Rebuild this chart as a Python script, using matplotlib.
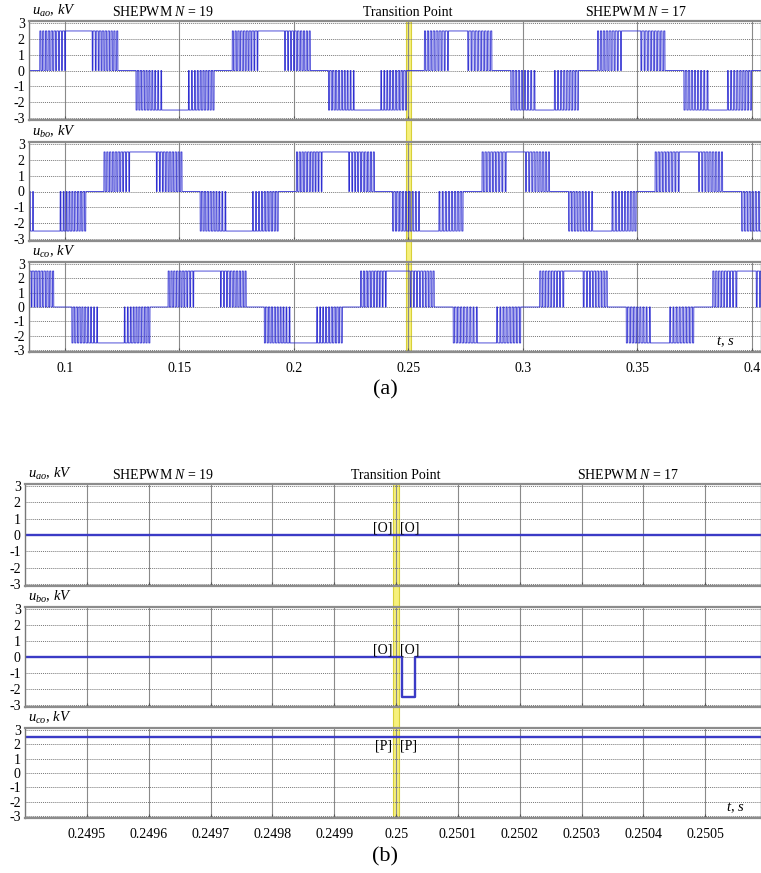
import numpy as np
import matplotlib
matplotlib.use("Agg")
import matplotlib.pyplot as plt
from matplotlib.patches import Rectangle
from matplotlib.transforms import blended_transform_factory

plt.rcParams['font.family'] = ['Liberation Serif', 'DejaVu Serif']
plt.rcParams['mathtext.fontset'] = 'custom'
plt.rcParams['mathtext.rm'] = 'Liberation Serif'
plt.rcParams['mathtext.it'] = 'Liberation Serif:italic'

# ---------------- data ----------------
VDC_KV = 2.5                     # level of the three-level output, kV
T_TRANSITION = 0.25              # s
F_N19 = 11.9                     # Hz, fundamental with N = 19
F_N17 = 13.23                    # Hz, fundamental with N = 17
PHASE_A_AT_TRANSITION = 346.7    # deg, phase of u_ao at the transition
PHASE_SHIFT_B = -120.0
PHASE_SHIFT_C = 120.0

# switching angles in the first quarter wave (deg)
ANGLES_N19 = [17.0, 19.2, 22.2, 24.6, 27.4, 30.0, 32.6, 35.5, 37.9, 41.0,
              43.2, 46.5, 48.5, 52.0, 53.8, 57.6, 59.3, 63.5, 65.0]
ANGLES_N17 = [19.8, 22.4, 25.8, 28.7, 31.8, 35.0, 37.9, 41.4, 44.1, 47.9,
              50.4, 54.4, 56.7, 61.0, 63.1, 67.8, 69.8]

XLIM_A = (0.0843, 0.4040)
XTICKS_A = [0.1, 0.15, 0.2, 0.25, 0.3, 0.35, 0.4]
XTICKLABELS_A = ['0.1', '0.15', '0.2', '0.25', '0.3', '0.35', '0.4']

# zoomed view (b): step edges and levels
XLIM_B = (0.24940, 0.25059)
B_UAO_T = [0.24940, 0.25059]
B_UAO_V = [0.0, 0.0]
B_UBO_T = [0.24940, 0.250009, 0.250031, 0.25059]
B_UBO_V = [0.0, -2.5, 0.0, 0.0]
B_UCO_T = [0.24940, 0.25059]
B_UCO_V = [2.5, 2.5]
XTICKS_B = [0.2495, 0.2496, 0.2497, 0.2498, 0.2499, 0.25,
            0.2501, 0.2502, 0.2503, 0.2504, 0.2505]
XTICKLABELS_B = ['0.2495', '0.2496', '0.2497', '0.2498', '0.2499', '0.25',
                 '0.2501', '0.2502', '0.2503', '0.2504', '0.2505']

YTICKS = [-3, -2, -1, 0, 1, 2, 3]
YLABELS = [r'$u_{ao},\,kV$', r'$u_{bo},\,kV$', r'$u_{co},\,kV$']
TEXT_N19 = r'SHEPWM $N$ = 19'
TEXT_N17 = r'SHEPWM $N$ = 17'
TEXT_TP = 'Transition Point'
B_STATES = [('[O]', '[O]'), ('[O]', '[O]'), ('[P]', '[P]')]


# ---------------- waveform from switching angles ----------------
def she_level(theta_deg, angles):
    th = np.mod(theta_deg, 360.0)
    sign = np.where(th < 180.0, 1.0, -1.0)
    th_h = np.mod(th, 180.0)
    q = np.where(th_h <= 90.0, th_h, 180.0 - th_h)
    count = np.searchsorted(np.asarray(angles), q, side='right')
    return VDC_KV * sign * (count % 2)


def phase_a(t):
    return np.where(t < T_TRANSITION,
                    PHASE_A_AT_TRANSITION + 360.0 * F_N19 * (t - T_TRANSITION),
                    PHASE_A_AT_TRANSITION + 360.0 * F_N17 * (t - T_TRANSITION))


def phase_voltage(t, shift):
    th = phase_a(t) + shift
    return np.where(t < T_TRANSITION, she_level(th, ANGLES_N19),
                    she_level(th, ANGLES_N17))


t_a = np.linspace(XLIM_A[0], XLIM_A[1], 320001)
ua = phase_voltage(t_a, 0.0)
ub = phase_voltage(t_a, PHASE_SHIFT_B)
uc = phase_voltage(t_a, PHASE_SHIFT_C)

# ---------------- figure ----------------
W, H = 761, 873
fig = plt.figure(figsize=(W / 100, H / 100), dpi=100)


def px_rect(x0, x1, y0, y1):
    return [x0 / W, 1 - y1 / H, (x1 - x0) / W, (y1 - y0) / H]


rects_a = [px_rect(29, 761, 21, 120), px_rect(29, 761, 142, 241), px_rect(29, 761, 262, 352)]
rects_b = [px_rect(25, 761, 484, 586), px_rect(25, 761, 607, 707), px_rect(25, 761, 728, 818)]

LINE_C = '#2f2fd2'


def style_axes(ax, xlim, xticks, xticklabels, show_xlabels):
    ax.set_facecolor('none')
    ax.set_xlim(*xlim)
    ax.set_ylim(-3.13, 3.13)
    ax.set_yticks(YTICKS)
    ax.set_yticklabels([str(v) for v in YTICKS])
    ax.set_xticks(xticks)
    if show_xlabels:
        ax.set_xticklabels(xticklabels)
    else:
        ax.set_xticklabels([])
    ax.tick_params(axis='y', length=0, pad=3, labelsize=10)
    ax.tick_params(axis='x', direction='in', length=3, color='#555555',
                   pad=7, labelsize=10)
    ax.xaxis.grid(True, color='#8a8a8a', lw=0.8, ls='-')
    ax.yaxis.grid(True, color='#777777', lw=0.7, ls=(0, (1, 1)))
    ax.set_axisbelow(True)
    for s in ax.spines.values():
        s.set_color('#777777')
        s.set_linewidth(1.0)
    ax.spines['top'].set_linewidth(1.6)
    ax.spines['bottom'].set_linewidth(1.6)
    ax.spines['top'].set_color('#8c8c8c')
    ax.spines['bottom'].set_color('#8c8c8c')


def add_header(ax, label, title_pos):
    ax.annotate(label, xy=(0.004, 1.0), xycoords='axes fraction',
                xytext=(0, 1.5), textcoords='offset points',
                ha='left', va='bottom', fontsize=10.5)
    if title_pos is not None:
        for txt, fx in zip([TEXT_N19, TEXT_TP, TEXT_N17], title_pos):
            ax.annotate(txt, xy=(fx, 1.0), xycoords='axes fraction',
                        xytext=(0, 1.5), textcoords='offset points',
                        ha='center', va='bottom', fontsize=10)


# ----- (a) -----
axes_a = [fig.add_axes(r) for r in rects_a]
for i, (ax, u) in enumerate(zip(axes_a, [ua, ub, uc])):
    style_axes(ax, XLIM_A, XTICKS_A, XTICKLABELS_A, i == 2)
    ax.plot(t_a, u, color=LINE_C, lw=0.6)
    add_header(ax, YLABELS[i], [0.183, 0.518, 0.829] if i == 0 else None)
axes_a[2].text(0.951, 0.11, r'$t,\,s$', transform=axes_a[2].transAxes,
               ha='center', va='center', fontsize=10.5)

# ----- (b) -----
axes_b = [fig.add_axes(r) for r in rects_b]
b_series = [(B_UAO_T, B_UAO_V), (B_UBO_T, B_UBO_V), (B_UCO_T, B_UCO_V)]
for i, (ax, (tt, vv)) in enumerate(zip(axes_b, b_series)):
    style_axes(ax, XLIM_B, XTICKS_B, XTICKLABELS_B, i == 2)
    ax.plot(tt, vv, drawstyle='steps-post', color='#3b3bc6', lw=1.7)
    add_header(ax, YLABELS[i], [0.1875, 0.504, 0.819] if i == 0 else None)
    left, right = B_STATES[i]
    y0 = vv[0]
    if i < 2:
        va, dy = 'bottom', 0
    else:
        va, dy = 'top', -2
    ax.annotate(left, xy=(T_TRANSITION, y0), xytext=(-3, dy),
                textcoords='offset points', ha='right', va=va, fontsize=10)
    ax.annotate(right, xy=(T_TRANSITION, y0), xytext=(3, dy),
                textcoords='offset points', ha='left', va=va, fontsize=10)
axes_b[2].text(0.965, 0.11, r'$t,\,s$', transform=axes_b[2].transAxes,
               ha='center', va='center', fontsize=10.5)

# ----- transition bands spanning all three panels -----
def add_band(ax_ref, half_width, y_top_px, y_bot_px):
    tr = blended_transform_factory(ax_ref.transData, fig.transFigure)
    rect = Rectangle((T_TRANSITION - half_width, 1 - y_bot_px / H),
                     2 * half_width, (y_bot_px - y_top_px) / H,
                     transform=tr, facecolor='#f6f07c', edgecolor='#d8d03a',
                     lw=0.8, zorder=-1)
    fig.add_artist(rect)


add_band(axes_a[2], 0.0011, 21, 352)
add_band(axes_b[2], 0.0000049, 484, 818)

fig.text(385 / W, 1 - 390 / H, '(a)', ha='center', va='center', fontsize=16)
fig.text(385 / W, 1 - 857 / H, '(b)', ha='center', va='center', fontsize=16)

fig.savefig('out.png', dpi=100)
